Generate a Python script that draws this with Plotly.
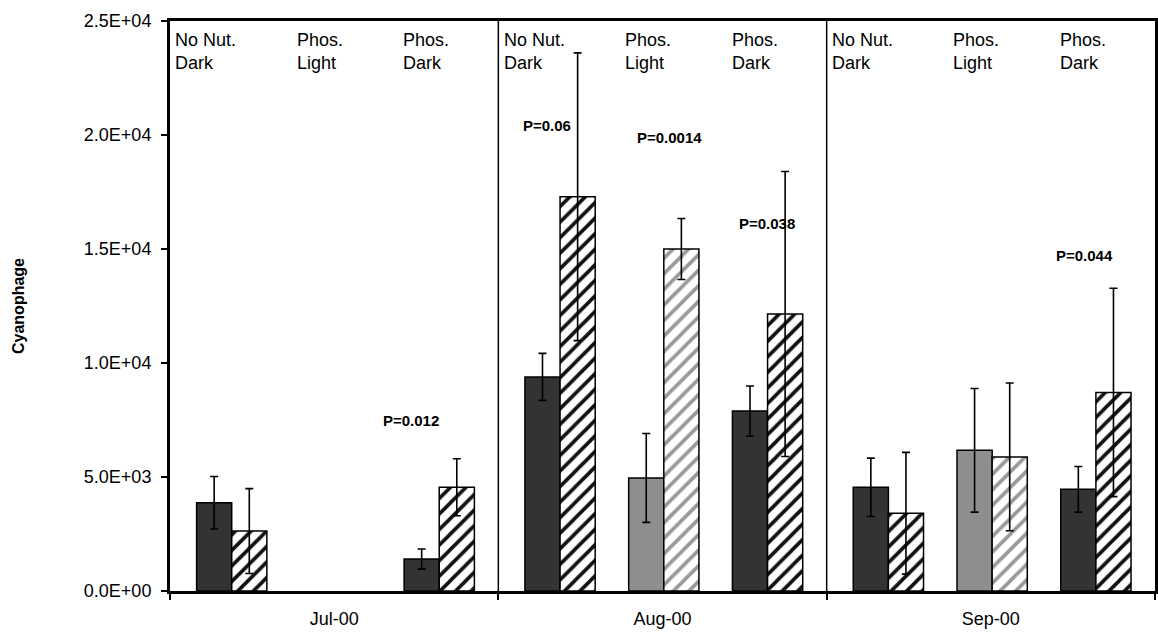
import plotly.graph_objects as go

# ---------------- data ----------------
months = ["Jul-00", "Aug-00", "Sep-00"]
treatments = ["No Nut.<br>Dark", "Phos.<br>Light", "Phos.<br>Dark"]

# month-major order: Jul(NoNut, PhosLight, PhosDark), Aug(...), Sep(...)
solid_mean = [3870, None, 1400, 9390, 4960, 7890, 4550, 6170, 4460]
solid_err = [1150, None, 440, 1030, 1950, 1100, 1280, 2710, 1000]
hatched_mean = [2630, None, 4550, 17290, 15000, 12150, 3410, 5880, 8710]
hatched_err = [1860, None, 1250, 6310, 1340, 6250, 2670, 3240, 4570]

p_labels = ["P=0.012", "P=0.06", "P=0.0014", "P=0.038", "P=0.044"]
p_month = [0, 1, 1, 1, 2]
p_rel = [0.234, -0.352, 0.021, 0.318, 0.286]
p_y = [7460, 20400, 19900, 16100, 14700]

y_tickvals = [0, 5000, 10000, 15000, 20000, 25000]
y_ticktext = ["0.0E+00", "5.0E+03", "1.0E+04", "1.5E+04", "2.0E+04", "2.5E+04"]
y_title = "Cyanophage"

# ---------------- styling ----------------
solid_colors_t = ["#333333", "#8e8e8e", "#333333"]
hatch_colors_t = ["#111111", "#999999", "#111111"]
label_rel = [-0.49, -0.12, 0.205]
group_step = 0.316
bar_w = 0.107
FONT = "Liberation Sans, Arial, sans-serif"
L, R, T, B = 170, 3, 21, 42
W, H = 1158, 633
plot_w = W - L - R

xs, solid_cols, hatch_cols = [], [], []
for m in range(len(months)):
    for t in range(len(treatments)):
        xs.append(m + (t - 1) * group_step + 0.004)
        solid_cols.append(solid_colors_t[t])
        hatch_cols.append(hatch_colors_t[t])

fig = go.Figure()

fig.add_trace(go.Bar(
    x=xs, y=solid_mean, width=bar_w, offset=-bar_w,
    marker=dict(color=solid_cols, line=dict(color="black", width=1.5)),
    error_y=dict(type="data", array=solid_err, visible=True,
                 color="black", thickness=1.6, width=4),
    showlegend=False, hoverinfo="skip",
))
fig.add_trace(go.Bar(
    x=xs, y=hatched_mean, width=bar_w, offset=0,
    marker=dict(color="white", line=dict(color="black", width=1.5),
                pattern=dict(shape="/", fgcolor=hatch_cols, bgcolor="white",
                             size=11, solidity=0.33, fillmode="replace",
                             fgopacity=1)),
    error_y=dict(type="data", array=hatched_err, visible=True,
                 color="black", thickness=1.6, width=4),
    showlegend=False, hoverinfo="skip",
))

shapes = []
for b in [0.5, 1.5]:
    shapes.append(dict(type="line", xref="x", yref="paper", x0=b, x1=b, y0=0, y1=1,
                       line=dict(color="black", width=1.5)))

annotations = []
for m in range(len(months)):
    for t, lab in enumerate(treatments):
        annotations.append(dict(
            x=m + label_rel[t], y=1, xref="x", yref="paper",
            xanchor="left", yanchor="top", yshift=-7,
            text=lab, showarrow=False, align="left",
            font=dict(family=FONT, size=18, color="black"),
        ))
for lab, m, r, yv in zip(p_labels, p_month, p_rel, p_y):
    annotations.append(dict(
        x=m + r, y=yv, xref="x", yref="y", text="<b>" + lab + "</b>",
        showarrow=False, font=dict(family=FONT, size=15, color="black"),
    ))
# y-axis title
annotations.append(dict(
    x=-(L - 18) / plot_w, y=0.5, xref="paper", yref="paper",
    text="<b>" + y_title + "</b>", textangle=-90, showarrow=False,
    xanchor="center", yanchor="middle",
    font=dict(family=FONT, size=16, color="black"),
))

fig.update_layout(
    width=W, height=H,
    margin=dict(l=L, r=R, t=T, b=B, autoexpand=False),
    paper_bgcolor="white", plot_bgcolor="white",
    barmode="overlay",
    shapes=shapes, annotations=annotations,
    font=dict(family=FONT, color="black"),
)
fig.update_xaxes(
    range=[-0.5, 2.5], tickmode="array", tickvals=[0, 1, 2], ticktext=months,
    ticks="", showgrid=False, zeroline=False, automargin=False,
    showline=True, linecolor="black", linewidth=3, mirror=True,
    tickfont=dict(family=FONT, size=18, color="black"),
    ticklabelstandoff=9,
    minor=dict(tickmode="array", tickvals=[-0.5, 0.5, 1.5, 2.5], ticks="outside",
               ticklen=6, tickwidth=1.5, tickcolor="black", showgrid=False),
)
fig.update_yaxes(
    range=[0, 25000], tickmode="array", tickvals=y_tickvals, ticktext=y_ticktext,
    ticks="outside", ticklen=6, tickwidth=1.5, tickcolor="black",
    showgrid=False, zeroline=False, automargin=False,
    showline=True, linecolor="black", linewidth=3, mirror=True,
    tickfont=dict(family=FONT, size=18, color="black"),
    ticklabelstandoff=6,
)

fig.write_html("out.html",
               config={"displayModeBar": False},
               post_script="document.body.style.margin='0px';"
                           "document.body.style.overflow='hidden';")
